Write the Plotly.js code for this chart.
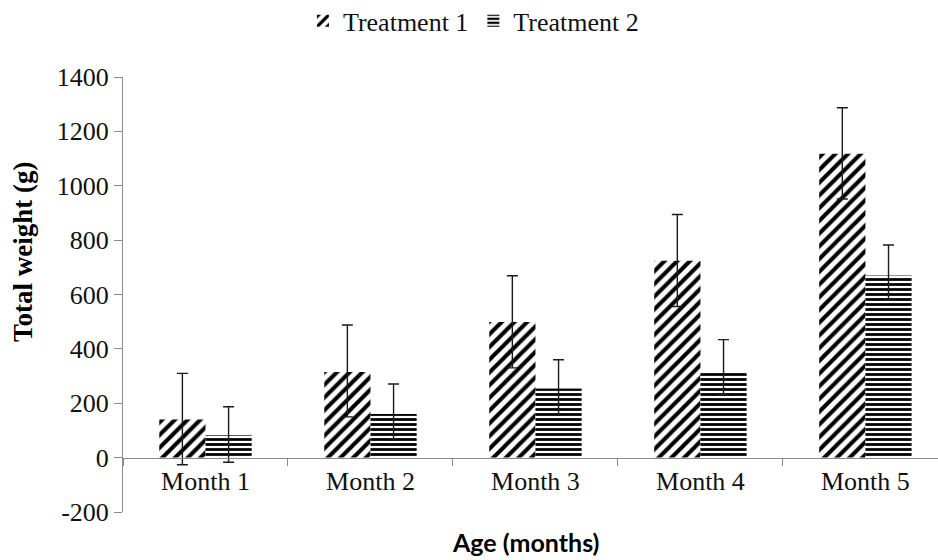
<!DOCTYPE html>
<html>
<head>
<meta charset="utf-8">
<script src="https://cdn.plot.ly/plotly-3.0.1.min.js"></script>
<style>html,body{margin:0;padding:0;background:#fff;}#chart{width:938px;height:560px;}</style>
</head>
<body>
<div id="chart"></div>
<script>
var categories = ["Month 1", "Month 2", "Month 3", "Month 4", "Month 5"];
var seriesNames = ["Treatment 1", "Treatment 2"];
var treatment1 = [140, 315, 499, 724, 1118];
var treatment1ErrPlus = [170, 173, 170, 170, 169];
var treatment1ErrMinus = [166, 165, 169, 168, 167];
var treatment2 = [82, 160, 254, 317, 670];
var treatment2ErrPlus = [105, 111, 106, 117, 112];
var treatment2ErrMinus = [99, 96, 98, 85, 87];
var yTicks = [-200, 0, 200, 400, 600, 800, 1000, 1200, 1400];
var yTickText = ["-200", "0", "200", "400", "600", "800", "1000", "1200", "1400"];

var serif = "'Liberation Serif', 'DejaVu Serif', serif";

function errOpts(plus, minus) {
  return {type: "data", symmetric: false, array: plus, arrayminus: minus,
          color: "#1a1a1a", thickness: 1.4, width: 5.5};
}

var traces = [
  {type: "bar", name: seriesNames[0], x: categories, y: treatment1,
   marker: {color: "white", line: {width: 0},
            pattern: {shape: "/", size: 9, solidity: 0.45, fgcolor: "#000", bgcolor: "#fff", fgopacity: 1, fillmode: "replace"}},
   error_y: errOpts(treatment1ErrPlus, treatment1ErrMinus)},
  {type: "bar", name: seriesNames[1], x: categories, y: treatment2,
   marker: {color: "white", line: {width: 0},
            pattern: {shape: "-", size: 5, solidity: 0.55, fgcolor: "#000", bgcolor: "#fff", fgopacity: 1, fillmode: "replace"}},
   error_y: errOpts(treatment2ErrPlus, treatment2ErrMinus)}
];

var layout = {
  width: 938, height: 560,
  margin: {l: 123, r: 0, t: 77, b: 48, pad: 0, autoexpand: false},
  paper_bgcolor: "#fff", plot_bgcolor: "#fff",
  barmode: "group", bargap: 0.44, bargroupgap: 0,
  showlegend: true,
  legend: {orientation: "h", x: 0.43, xanchor: "center", y: 1.129, yanchor: "middle",
           font: {family: serif, size: 26, color: "#111"}, itemwidth: 30, traceorder: "normal"},
  xaxis: {type: "category", range: [-0.5, 4.44], anchor: "free", position: 0.125,
          showline: true, linecolor: "#8a8a8a", linewidth: 1,
          ticks: "outside", tickson: "boundaries", ticklen: 7, tickcolor: "#8a8a8a",
          showgrid: false, zeroline: false,
          tickfont: {family: serif, size: 26, color: "#111"}},
  yaxis: {range: [-200, 1400], tickvals: yTicks, ticktext: yTickText, showline: true, linecolor: "#8a8a8a", linewidth: 1,
          ticks: "outside", ticklen: 8, tickcolor: "#8a8a8a", showgrid: false, zeroline: false,
          tickfont: {family: serif, size: 26, color: "#111"}},
  annotations: [
    {text: "Age (months)", xref: "paper", yref: "paper", x: (525 - 123) / 815, y: -(542 - 512) / 435,
     xanchor: "center", yanchor: "middle", showarrow: false,
     font: {family: "Lato, 'Open Sans', sans-serif", size: 25, color: "#000", weight: "bold"}},
    {text: "Total weight (g)", xref: "paper", yref: "paper", x: -(123 - 23) / 815, y: (512 - 252) / 435,
     xanchor: "center", yanchor: "middle", textangle: -90, showarrow: false,
     font: {family: serif, size: 27, color: "#000", weight: "bold"}}
  ]
};

Plotly.newPlot("chart", traces, layout, {displayModeBar: false, staticPlot: true});
</script>
</body>
</html>
